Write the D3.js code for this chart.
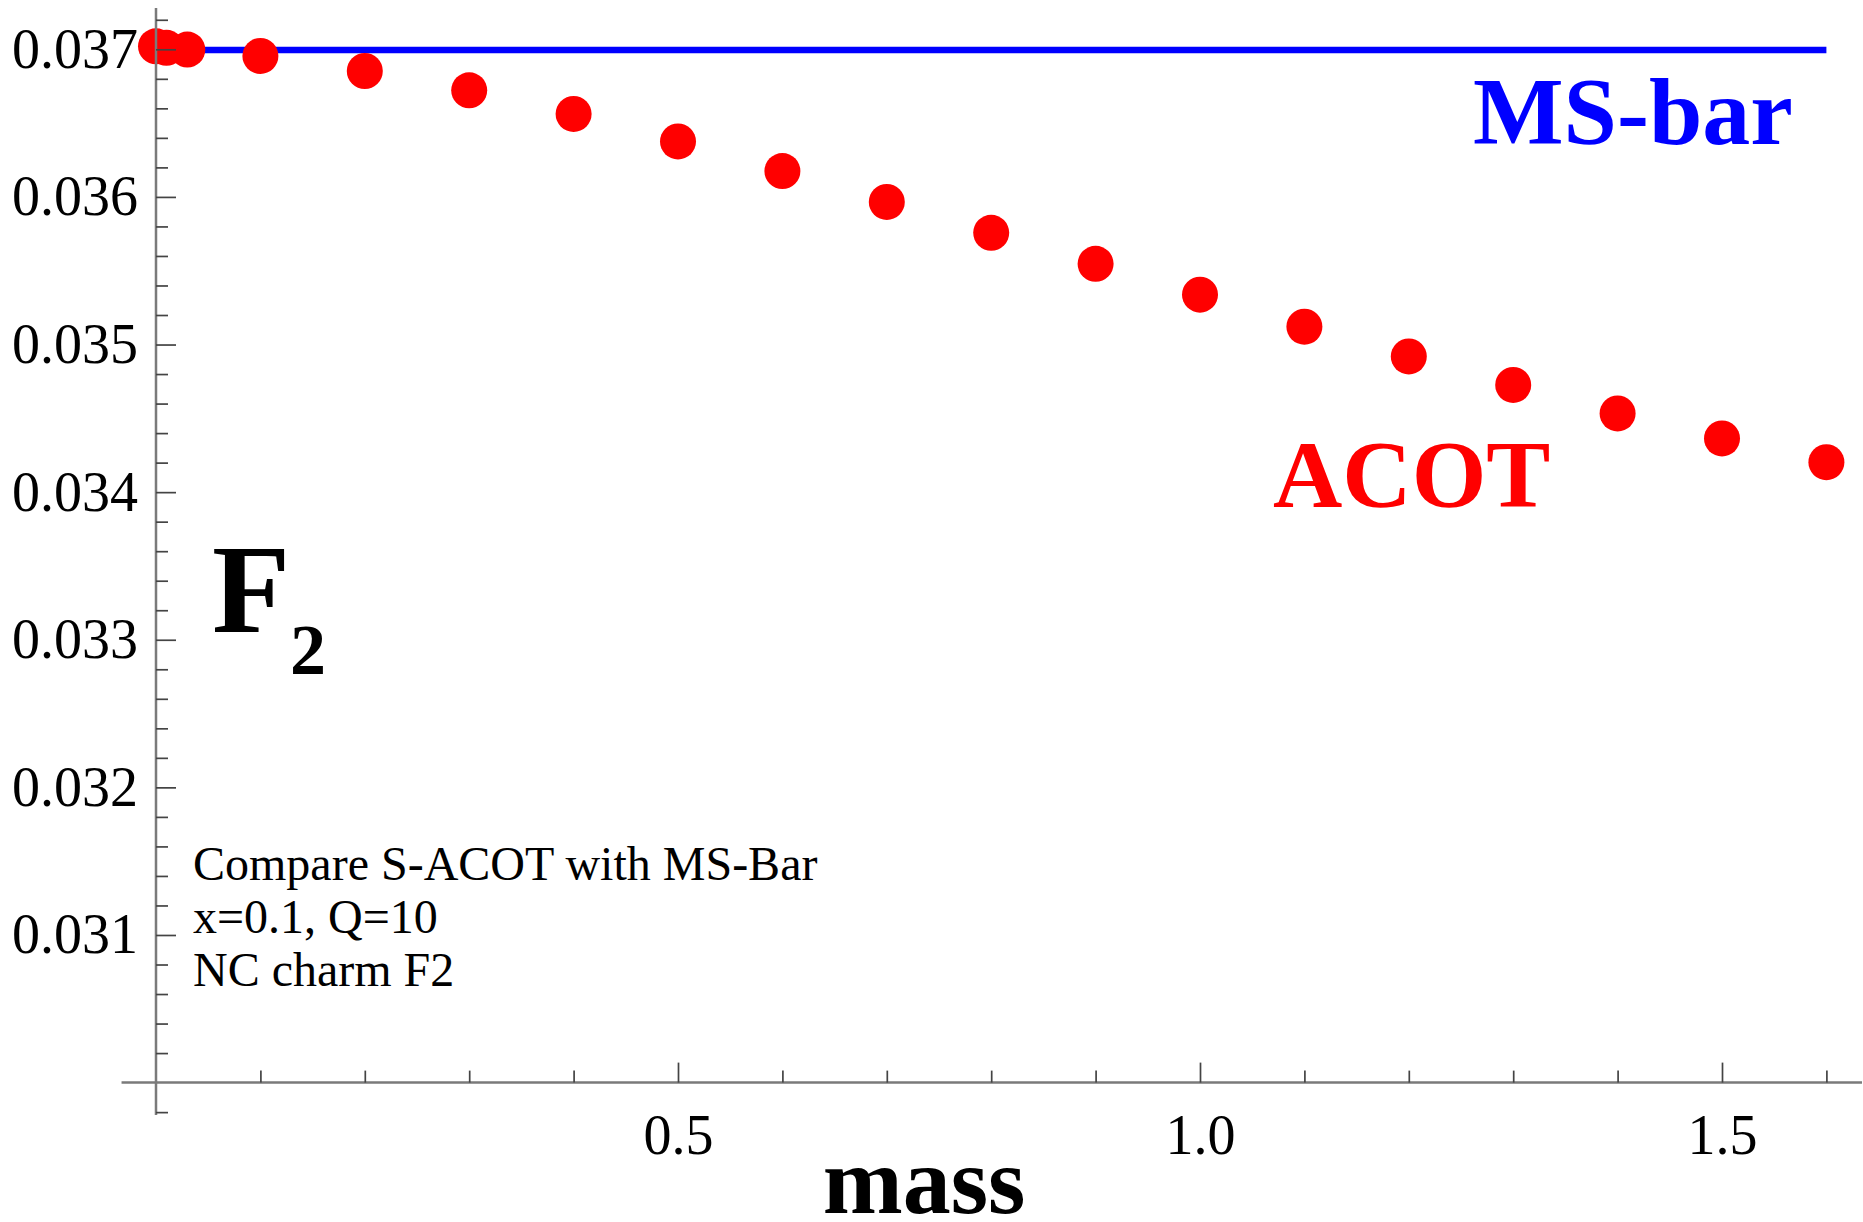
<!DOCTYPE html>
<html>
<head>
<meta charset="utf-8">
<script src="https://cdn.jsdelivr.net/npm/d3@7/dist/d3.min.js"></script>
<style>
  body { margin: 0; background: #fff; }
  svg { display: block; font-family: "Liberation Serif", "Times New Roman", serif; }
</style>
</head>
<body>
<div id="chart"></div>
<script>
// values
const mass = [0, 0.01, 0.03, 0.1, 0.2, 0.3, 0.4, 0.5, 0.6, 0.7, 0.8, 0.9, 1.0, 1.1, 1.2, 1.3, 1.4, 1.5, 1.6];
const acotF2 = [0.03702, 0.03701, 0.036998, 0.036955, 0.036853, 0.036722, 0.036562, 0.036376, 0.036175,
                0.035966, 0.035757, 0.035547, 0.035338, 0.035121, 0.034919, 0.034726, 0.034533, 0.034364, 0.034203];
const msbarF2 = 0.036995;
const msbarMass = [0, 1.6];

const xMajorTicks = [0.5, 1.0, 1.5];
const xMinorTicks = [0.1, 0.2, 0.3, 0.4, 0.6, 0.7, 0.8, 0.9, 1.1, 1.2, 1.3, 1.4, 1.6];
const yMajorTicks = [0.031, 0.032, 0.033, 0.034, 0.035, 0.036, 0.037];
const yMinorTicks = d3.range(0.0298, 0.03721, 0.0002).filter(v => Math.abs(v * 1000 - Math.round(v * 1000)) > 1e-6);

const notes = ["Compare S-ACOT with MS-Bar", "x=0.1, Q=10", "NC charm F2"];

const width = 1863, height = 1222;

const svg = d3.select("#chart")
    .append("svg")
    .attr("width", width)
    .attr("height", height);

const x = d3.scaleLinear().domain([0, 1.6]).range([156, 1826.4]);
const y = d3.scaleLinear().domain([0.030, 0.037]).range([1082.6, 49.3]);

const points = mass.map((m, i) => ({ m, f: acotF2[i] }));

// MS-bar line
svg.append("line")
    .attr("x1", x(msbarMass[0]))
    .attr("x2", x(msbarMass[1]))
    .attr("y1", y(msbarF2))
    .attr("y2", y(msbarF2))
    .attr("stroke", "#0000ff")
    .attr("stroke-width", 6.5);

// ACOT points
svg.selectAll("circle.acot")
    .data(points)
    .enter().append("circle")
    .attr("class", "acot")
    .attr("cx", d => x(d.m))
    .attr("cy", d => y(d.f))
    .attr("r", 18)
    .attr("fill", "#ff0000");

// axis lines
const axisColor = "#7a7a7a";
svg.append("line")
    .attr("x1", x(-0.033)).attr("x2", 1862)
    .attr("y1", y(0.030)).attr("y2", y(0.030))
    .attr("stroke", axisColor).attr("stroke-width", 2.5);
svg.append("line")
    .attr("x1", x(0)).attr("x2", x(0))
    .attr("y1", y(0.02978)).attr("y2", y(0.03728))
    .attr("stroke", axisColor).attr("stroke-width", 2.5);

function styleAxis(g) {
    g.select(".domain").remove();
    g.selectAll(".tick line").attr("stroke", "#444").attr("stroke-width", 1.7);
    g.selectAll(".tick text")
        .attr("fill", "#000")
        .style("font-family", "'Liberation Serif', 'Times New Roman', serif")
        .style("font-size", "56px");
}

// y axis
svg.append("g")
    .attr("transform", `translate(${x(0)},0)`)
    .call(d3.axisLeft(y).tickValues(yMinorTicks).tickSize(-12).tickFormat(""))
    .call(styleAxis);
svg.append("g")
    .attr("transform", `translate(${x(0)},0)`)
    .call(d3.axisLeft(y).tickValues(yMajorTicks).tickSize(-20).tickPadding(18).tickFormat(d3.format(".3f")))
    .call(styleAxis);

// x axis
svg.append("g")
    .attr("transform", `translate(0,${y(0.030)})`)
    .call(d3.axisBottom(x).tickValues(xMinorTicks).tickSize(-12).tickFormat(""))
    .call(styleAxis);
svg.append("g")
    .attr("transform", `translate(0,${y(0.030)})`)
    .call(d3.axisBottom(x).tickValues(xMajorTicks).tickSize(-20).tickPadding(32).tickFormat(d3.format(".1f")))
    .call(styleAxis);

// axis titles
svg.append("text")
    .attr("x", 924)
    .attr("y", 1213)
    .attr("text-anchor", "middle")
    .attr("font-weight", "bold")
    .attr("font-size", 96)
    .text("mass");

const f2 = svg.append("text")
    .attr("x", 212)
    .attr("y", 632)
    .attr("font-weight", "bold")
    .attr("font-size", 128);
f2.append("tspan").text("F");
f2.append("tspan")
    .attr("x", 290)
    .attr("y", 674)
    .attr("font-size", 72)
    .text("2");

// series labels
svg.append("text")
    .attr("x", 1473)
    .attr("y", 144)
    .attr("font-weight", "bold")
    .attr("font-size", 96)
    .attr("fill", "#0000ff")
    .text("MS-bar");

svg.append("text")
    .attr("x", 1273)
    .attr("y", 507)
    .attr("font-weight", "bold")
    .attr("font-size", 96)
    .attr("fill", "#ff0000")
    .text("ACOT");

// annotation
svg.append("g")
    .selectAll("text")
    .data(notes)
    .enter().append("text")
    .attr("x", 193)
    .attr("y", (d, i) => 880 + i * 53)
    .attr("font-size", 48)
    .text(d => d);
</script>
</body>
</html>
